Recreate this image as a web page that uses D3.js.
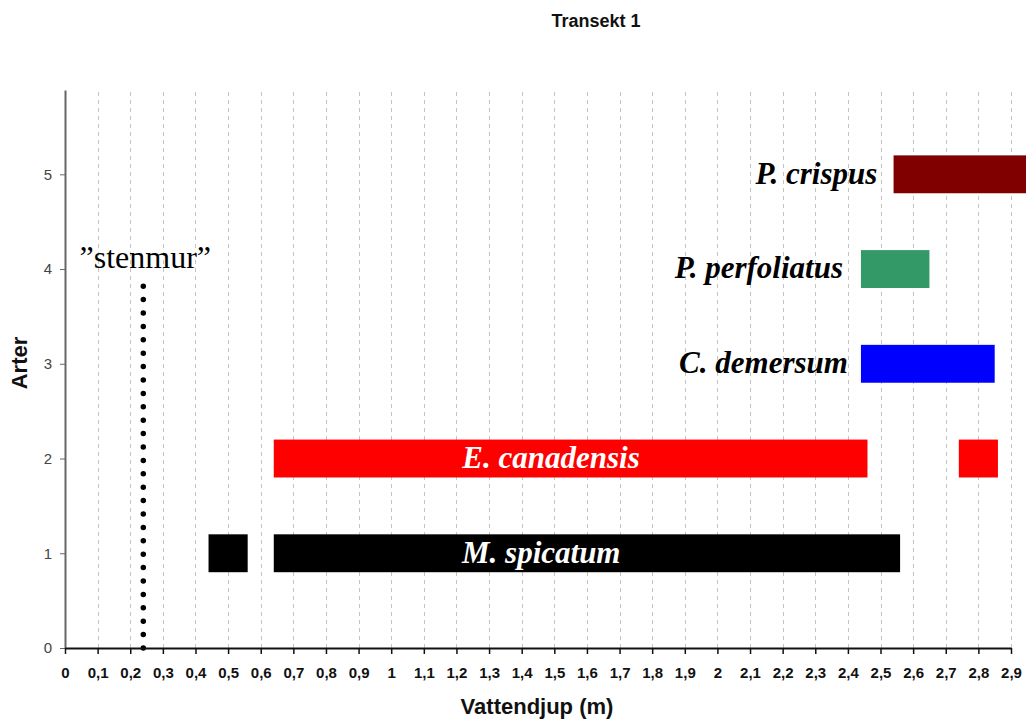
<!DOCTYPE html>
<html>
<head>
<meta charset="utf-8">
<script src="https://cdn.jsdelivr.net/npm/d3@7"></script>
<style>
  body { margin: 0; background: #fff; }
  svg { display: block; }
</style>
</head>
<body>
<div id="chart"></div>
<script>
// species rows (y value = row number)
const species = ["M. spicatum", "E. canadensis", "C. demersum", "P. perfoliatus", "P. crispus"];
const rows = [1, 2, 3, 4, 5];
const colors = ["#000000", "#ff0000", "#0000ff", "#339966", "#800000"];
// depth ranges (m) where each species was found
const segStart = [[0.44, 0.64], [0.64, 2.74], [2.44], [2.44], [2.54]];
const segEnd = [[0.56, 2.56], [2.46, 2.86], [2.85], [2.65], [3.0]];
// label anchor depth and whether label sits inside the bar
const labelX = [1.46, 1.49, 2.40, 2.385, 2.49];
const labelInside = [true, true, false, false, false];

const wallDepth = 0.24;   // "stenmur"
const wallTop = 3.88;
const xTicks = d3.range(0, 30).map(d => d / 10);
const yTicks = [0, 1, 2, 3, 4, 5];

const width = 1026, height = 722;
const margin = { left: 65, right: 15, top: 90, bottom: 74 };

const svg = d3.select("#chart").append("svg")
  .attr("width", width)
  .attr("height", height);

const x = d3.scaleLinear().domain([0, 2.9]).range([margin.left, 1011]);
const y = d3.scaleLinear().domain([0, 5.89]).range([height - margin.bottom, margin.top]);

// vertical dashed grid
svg.append("g")
  .selectAll("line")
  .data(xTicks.slice(1))
  .join("line")
  .attr("x1", d => Math.round(x(d)) + 0.5)
  .attr("x2", d => Math.round(x(d)) + 0.5)
  .attr("y1", y(0))
  .attr("y2", y(5.89))
  .attr("stroke", "#c4c4c4")
  .attr("stroke-dasharray", "4,4");

// bars
const bandH = y(0) - y(0.4);
species.forEach((s, i) => {
  const segs = segStart[i].map((a, j) => [a, segEnd[i][j]]);
  svg.append("g")
    .selectAll("rect")
    .data(segs)
    .join("rect")
    .attr("x", d => x(d[0]))
    .attr("width", d => x(d[1]) - x(d[0]))
    .attr("y", y(rows[i] + 0.2))
    .attr("height", bandH)
    .attr("fill", colors[i]);
});

// species labels
svg.append("g")
  .selectAll("text")
  .data(species)
  .join("text")
  .attr("x", (d, i) => x(labelX[i]))
  .attr("y", (d, i) => y(rows[i]))
  .attr("dy", "0.3em")
  .attr("text-anchor", (d, i) => labelInside[i] ? "middle" : "end")
  .attr("font-family", "'Liberation Serif', 'Times New Roman', serif")
  .attr("font-weight", "bold")
  .attr("font-style", "italic")
  .attr("font-size", 31)
  .attr("fill", (d, i) => labelInside[i] ? "#fff" : "#000")
  .text(d => d);

// stone wall dotted line
svg.append("line")
  .attr("x1", x(wallDepth))
  .attr("x2", x(wallDepth))
  .attr("y1", y(0))
  .attr("y2", y(wallTop))
  .attr("stroke", "#000")
  .attr("stroke-width", 5.5)
  .attr("stroke-linecap", "round")
  .attr("stroke-dasharray", "0,13.4");

svg.append("text")
  .attr("x", x(wallDepth) + 2)
  .attr("y", y(4) - 1)
  .attr("text-anchor", "middle")
  .attr("font-family", "'Liberation Serif', 'Times New Roman', serif")
  .attr("font-size", 32)
  .text("\u201dstenmur\u201d");

// y axis
const yAxis = svg.append("g")
  .attr("transform", `translate(${margin.left},0)`)
  .call(d3.axisLeft(y).tickValues(yTicks).tickFormat(d3.format("d"))
    .tickSize(5).tickSizeOuter(0).tickPadding(8));
yAxis.select(".domain").attr("stroke", "#666").attr("stroke-width", 2);
yAxis.selectAll(".tick line").attr("stroke", "#666");
yAxis.selectAll(".tick text")
  .attr("font-family", "Arial, 'Liberation Sans', sans-serif")
  .attr("font-size", 15)
  .attr("fill", "#444");

// x axis
const xAxis = svg.append("g")
  .attr("transform", `translate(0,${y(0)})`)
  .call(d3.axisBottom(x).tickValues(xTicks).tickSize(6).tickSizeOuter(0).tickPadding(13)
    .tickFormat(d => String(Math.round(d * 10) / 10).replace(".", ",")));
xAxis.select(".domain").attr("stroke", "#111").attr("stroke-width", 2);
xAxis.selectAll(".tick line").attr("stroke", "#111").attr("stroke-width", 1.5);
xAxis.selectAll(".tick text")
  .attr("font-family", "Arial, 'Liberation Sans', sans-serif")
  .attr("font-size", 15)
  .attr("font-weight", "bold")
  .attr("fill", "#111");

// titles
svg.append("text")
  .attr("x", 596)
  .attr("y", 27)
  .attr("text-anchor", "middle")
  .attr("font-family", "Arial, 'Liberation Sans', sans-serif")
  .attr("font-weight", "bold")
  .attr("font-size", 18)
  .attr("fill", "#111")
  .text("Transekt 1");

svg.append("text")
  .attr("x", 537)
  .attr("y", 714)
  .attr("text-anchor", "middle")
  .attr("font-family", "Arial, 'Liberation Sans', sans-serif")
  .attr("font-weight", "bold")
  .attr("font-size", 22)
  .attr("fill", "#111")
  .text("Vattendjup (m)");

svg.append("text")
  .attr("transform", "translate(27,363) rotate(-90)")
  .attr("text-anchor", "middle")
  .attr("font-family", "Arial, 'Liberation Sans', sans-serif")
  .attr("font-weight", "bold")
  .attr("font-size", 22)
  .attr("fill", "#111")
  .text("Arter");
</script>
</body>
</html>
